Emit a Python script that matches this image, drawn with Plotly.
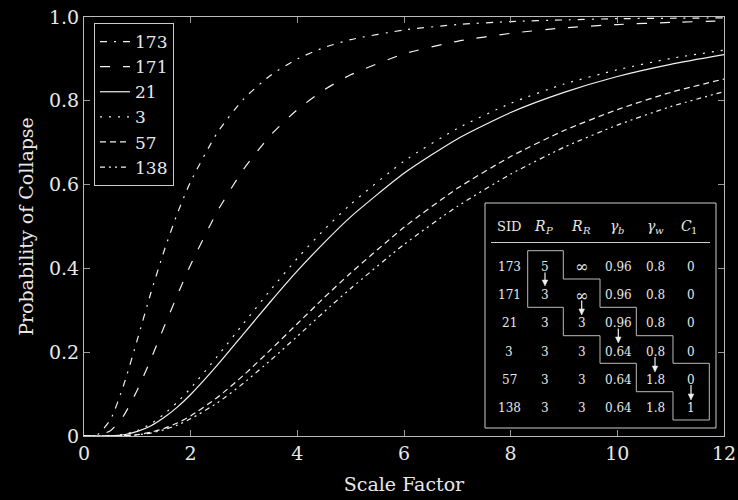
import plotly.graph_objects as go

# ---- data ----
scale_factor = [0, 0.25, 0.5, 0.75, 1, 1.25, 1.5, 1.75, 2, 2.5, 3, 3.5, 4, 4.5, 5, 6, 7, 8, 9, 10, 11, 12]
p_173 = [0, 0.003, 0.040, 0.124, 0.230, 0.340, 0.441, 0.531, 0.607, 0.724, 0.805, 0.861, 0.900, 0.927, 0.946, 0.969, 0.982, 0.989, 0.993, 0.996, 0.997, 0.998]
p_171 = [0, 0.001, 0.013, 0.050, 0.110, 0.182, 0.260, 0.336, 0.409, 0.536, 0.638, 0.718, 0.779, 0.826, 0.862, 0.912, 0.942, 0.961, 0.974, 0.982, 0.987, 0.991]
p_21 = [0, 0.000, 0.0005, 0.003, 0.011, 0.024, 0.044, 0.069, 0.099, 0.169, 0.245, 0.321, 0.394, 0.461, 0.523, 0.627, 0.709, 0.772, 0.820, 0.858, 0.887, 0.910]
p_3 = [0, 0.000, 0.0006, 0.004, 0.013, 0.029, 0.052, 0.081, 0.114, 0.190, 0.270, 0.349, 0.424, 0.492, 0.553, 0.656, 0.734, 0.794, 0.840, 0.874, 0.901, 0.921]
p_57 = [0, 0.000, 0.0001, 0.001, 0.003, 0.009, 0.018, 0.031, 0.048, 0.092, 0.146, 0.206, 0.268, 0.330, 0.389, 0.498, 0.591, 0.667, 0.729, 0.779, 0.820, 0.852]
p_138 = [0, 0.000, 0.0001, 0.001, 0.003, 0.007, 0.015, 0.026, 0.041, 0.079, 0.127, 0.181, 0.238, 0.296, 0.352, 0.457, 0.548, 0.625, 0.689, 0.742, 0.786, 0.822]

series_names = ["173", "171", "21", "3", "57", "138"]
series_values = [p_173, p_171, p_21, p_3, p_57, p_138]
series_dash = ["7px,7px,2px,7px", "10px,13px", "solid", "2px,7px", "6px,4px", "5px,4px,2px,4px,2px,4px"]

x_ticks = [0, 2, 4, 6, 8, 10, 12]
y_ticks = [0, 0.2, 0.4, 0.6, 0.8, 1.0]
y_tick_labels = ["0", "0.2", "0.4", "0.6", "0.8", "1.0"]

# table content: header symbol, header subscript
table_header = ["SID", "R", "R", "γ", "γ", "C"]
table_header_sub = ["", "P", "R", "b", "w", "1"]
table_sid = ["173", "171", "21", "3", "57", "138"]
table_rp = ["5", "3", "3", "3", "3", "3"]
table_rr = ["∞", "∞", "3", "3", "3", "3"]
table_gb = ["0.96", "0.96", "0.96", "0.64", "0.64", "0.64"]
table_gw = ["0.8", "0.8", "0.8", "0.8", "1.8", "1.8"]
table_c1 = ["0", "0", "0", "0", "0", "1"]

FONT = "DejaVu Serif, Liberation Serif, serif"
FG = "#e8e8e8"

fig = go.Figure()
for name, vals, dash in zip(series_names, series_values, series_dash):
    fig.add_trace(go.Scatter(
        x=scale_factor, y=vals, name=name, mode="lines",
        line=dict(color="#f2f2f2", width=1.2, dash=dash, shape="spline", smoothing=0.6),
    ))

# plot area geometry in pixels
W, H = 738, 500
L, R, T, B = 84, 14, 17, 64
PW, PH = W - L - R, H - T - B


def px(xp):
    return (xp - L) / PW


def py(yp):
    return (H - B - yp) / PH


shapes = []
annotations = []

# table frame
shapes.append(dict(type="rect", xref="paper", yref="paper",
                   x0=px(485), x1=px(716), y0=py(428), y1=py(203),
                   line=dict(color="#cccccc", width=1), fillcolor="black", layer="above"))
shapes.append(dict(type="line", xref="paper", yref="paper",
                   x0=px(491), x1=px(710), y0=py(242.5), y1=py(242.5),
                   line=dict(color="#cccccc", width=1.2), layer="above"))
# staircase outline
stair = [(527.7, 250.7), (563.3, 250.7), (563.3, 279), (600, 279), (600, 307.3), (636.3, 307.3),
         (636.3, 335.7), (673, 335.7), (673, 363.3), (709.3, 363.3), (709.3, 420), (673, 420),
         (673, 391.7), (636.3, 391.7), (636.3, 363.3), (600, 363.3), (600, 335.7), (563.3, 335.7),
         (563.3, 307.3), (527.7, 307.3)]
path = "M " + " L ".join(f"{px(a):.5f},{py(b):.5f}" for a, b in stair) + " Z"
shapes.append(dict(type="path", xref="paper", yref="paper", path=path,
                   line=dict(color="#bbbbbb", width=1), layer="above"))

col_x = [509, 545, 581.7, 618.3, 655, 691]
row_y = [266.7, 295, 323.3, 351.7, 380, 407.7]
for i, (cx, h, sub) in enumerate(zip(col_x, table_header, table_header_sub)):
    if sub:
        annotations.append(dict(xref="paper", yref="paper", x=px(cx + 2), y=py(226), text=h,
                                showarrow=False, borderpad=0,
                                font=dict(family=FONT, size=14, color=FG, style="italic"),
                                xanchor="right", yanchor="middle"))
        annotations.append(dict(xref="paper", yref="paper", x=px(cx - 1), y=py(230), text=sub,
                                showarrow=False, borderpad=0,
                                font=dict(family=FONT, size=10, color=FG,
                                          style="normal" if sub == "1" else "italic"),
                                xanchor="left", yanchor="middle"))
    else:
        annotations.append(dict(xref="paper", yref="paper", x=px(cx), y=py(226), text=h,
                                showarrow=False, font=dict(family=FONT, size=13, color=FG),
                                xanchor="center", yanchor="middle"))
columns = [table_sid, table_rp, table_rr, table_gb, table_gw, table_c1]
for cx, col in zip(col_x, columns):
    for ry, val in zip(row_y, col):
        annotations.append(dict(xref="paper", yref="paper", x=px(cx), y=py(ry), text=val,
                                showarrow=False,
                                font=dict(family=FONT, size=16 if val == "∞" else 12, color=FG),
                                xanchor="center", yanchor="middle"))
# arrows drawn as shapes (column index, tail y, head y)
arrows = [(1, 272.5, 286), (2, 300.5, 315), (3, 328.5, 343), (4, 357, 372), (5, 385, 400)]
for ci, y0, y1 in arrows:
    ax_ = col_x[ci]
    shapes.append(dict(type="line", xref="paper", yref="paper",
                       x0=px(ax_), x1=px(ax_), y0=py(y0), y1=py(y1 - 4),
                       line=dict(color="#f0f0f0", width=1.2), layer="above"))
    tri = f"M {px(ax_ - 2.8):.5f},{py(y1 - 6):.5f} L {px(ax_ + 2.8):.5f},{py(y1 - 6):.5f} L {px(ax_):.5f},{py(y1):.5f} Z"
    shapes.append(dict(type="path", xref="paper", yref="paper", path=tri,
                       fillcolor="#f0f0f0", line=dict(color="#f0f0f0", width=0.5), layer="above"))

fig.update_layout(
    width=W, height=H,
    margin=dict(l=L, r=R, t=T, b=B),
    paper_bgcolor="black", plot_bgcolor="black",
    font=dict(family=FONT, size=18, color=FG),
    showlegend=True,
    legend=dict(x=px(94), y=py(23), xanchor="left", yanchor="top",
                bgcolor="black", bordercolor="#cccccc", borderwidth=1,
                font=dict(family=FONT, size=17, color=FG),
                tracegroupgap=0, itemwidth=30),
    xaxis=dict(range=[0, 12], tickvals=x_ticks, ticks="inside", ticklen=6,
               tickcolor="#999999", showline=True, linecolor="#bbbbbb", linewidth=1,
               mirror="ticks", showgrid=False, zeroline=False, automargin=False,
               title=dict(text="Scale Factor", font=dict(size=19), standoff=14),
               tickfont=dict(size=19)),
    yaxis=dict(range=[0, 1], tickvals=y_ticks, ticktext=y_tick_labels, ticks="inside", ticklen=6,
               tickcolor="#999999", showline=True, linecolor="#bbbbbb", linewidth=1,
               mirror="ticks", showgrid=False, zeroline=False, automargin=False,
               title=dict(text="Probability of Collapse", font=dict(size=19), standoff=10),
               tickfont=dict(size=19)),
    shapes=shapes,
    annotations=annotations,
)

fig.write_html("out.html")
